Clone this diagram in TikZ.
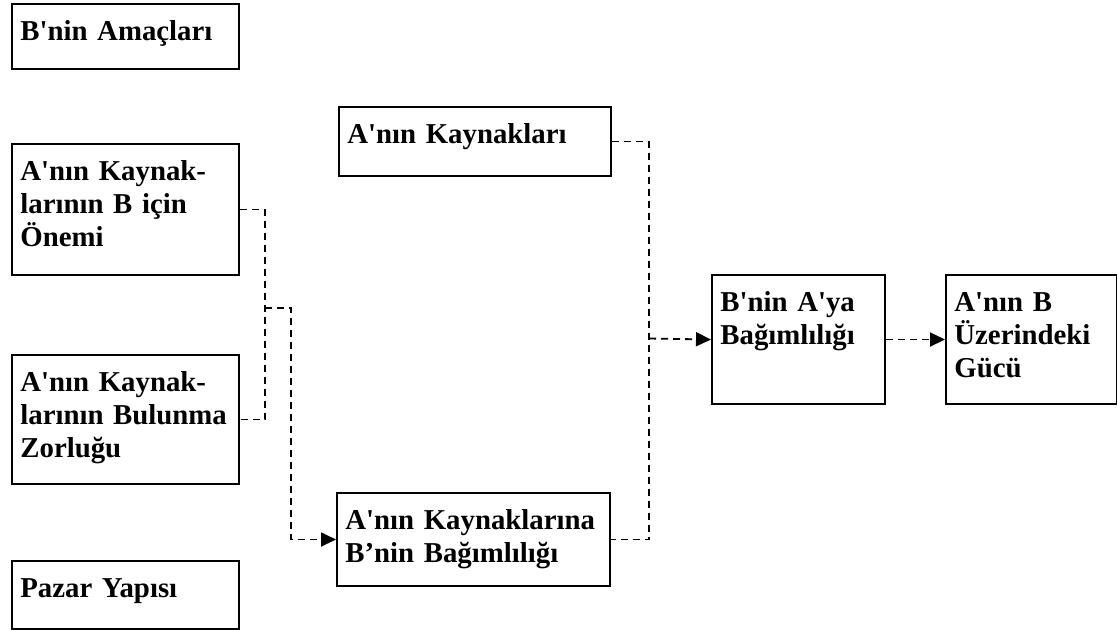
\documentclass[tikz,border=0pt]{standalone}
\usepackage{fontspec}
\setmainfont{Liberation Serif}[Ligatures=TeXOff]
\usetikzlibrary{arrows.meta}

\begin{document}
\begin{tikzpicture}[x=0.5pt, y=-0.5pt,
  box/.style={draw, line width=1pt, inner sep=0pt, anchor=north west},
  txt/.style={anchor=base west, inner sep=0pt, text width=130pt, align=left, font=\bfseries\fontsize{14.4}{16.7}\selectfont},
  link/.style={dash pattern=on 3.6pt off 2.4pt, line width=0.9pt},
  tip/.style={link, -{Triangle[length=7.5pt, width=7pt]}}]
\useasboundingbox (0,0) rectangle (1117,629);
\foreach \n/\x/\y/\w/\h/\t in {
  amac/11/3/227/65/{B'nin Amaçları},
  onem/11/143/227/131/{A'nın Kaynak-\\larının B için\\Önemi},
  bulun/11/354/227/129/{A'nın Kaynak-\\larının Bulunma\\Zorluğu},
  pazar/11/560/227/68/{Pazar Yapısı},
  kayn/338/106/272/69/{A'nın Kaynakları},
  bagim/336/492/273/93/{A'nın Kaynaklarına\\B’nin Bağımlılığı},
  bagA/711/274/173/129/{B'nin A'ya\\Bağımlılığı},
  guc/945/274/171/129/{A'nın B\\Üzerindeki\\Gücü}}{
  \node[box, minimum width=\w*0.5pt, minimum height=\h*0.5pt] (\n) at (\x,\y) {};
  \node[txt] (\n-t) at ([shift={(9,37)}]\n.north west) {\t};
}
\coordinate (jl) at (265,308);
\coordinate (jm) at (291,308);
\coordinate (jr) at (649,338.5);
\draw[link] (onem.east) -| (jl) |- (bulun.east);
\draw[tip] (jl) -- (jm) |- (bagim.west);
\draw[link] (kayn.east) -| (jr) |- (bagim.east);
\draw[tip] (jr) -- (bagA.west);
\draw[tip] (bagA) -- (guc);
\end{tikzpicture}
\end{document}
